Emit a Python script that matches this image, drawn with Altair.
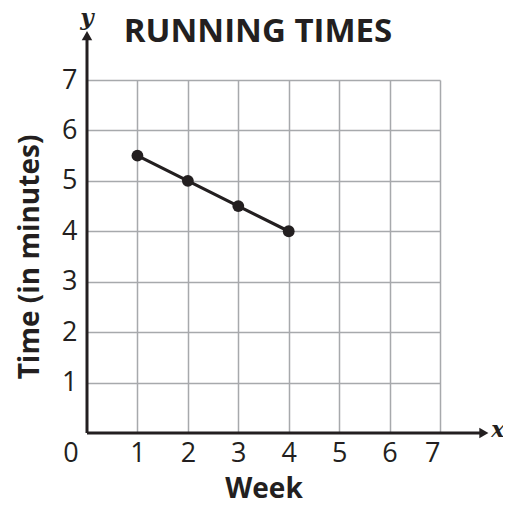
import altair as alt
import pandas as pd

weeks = [1, 2, 3, 4]
times = [5.5, 5.0, 4.5, 4.0]
tick_values = [1, 2, 3, 4, 5, 6, 7]
x_arrow_end = 7.87
y_arrow_end = 7.88
chart_title = "RUNNING TIMES"

INK = "#231f20"
FONT = "Open Sans"

df = pd.DataFrame({"week": weeks, "time": times})

xs = alt.Scale(domain=[0, 7], nice=False)
ys = alt.Scale(domain=[0, 7], nice=False)

base = alt.Chart(df)

grid = base.mark_point(opacity=0).encode(
    x=alt.X("week:Q", scale=xs, title="Week",
            axis=alt.Axis(values=tick_values, grid=True, domain=False, ticks=False,
                          labelFontSize=27, labelFont=FONT, labelColor=INK,
                          labelPadding=7, gridColor="#a7a9ac", gridWidth=1.5,
                          titleFont=FONT, titleFontSize=28, titleFontWeight="bold",
                          titleColor=INK, titlePadding=9)),
    y=alt.Y("time:Q", scale=ys, title="Time (in minutes)",
            axis=alt.Axis(values=tick_values, grid=True, domain=False, ticks=False,
                          labelFontSize=27, labelFont=FONT, labelColor=INK,
                          labelPadding=10, gridColor="#a7a9ac", gridWidth=1.5,
                          titleFont=FONT, titleFontSize=28, titleFontWeight="bold",
                          titleColor=INK, titlePadding=17)),
)

axes_df = pd.DataFrame({
    "x": [0, 0], "y": [0, 0],
    "x2": [x_arrow_end, 0], "y2": [0, y_arrow_end],
})
axis_lines = alt.Chart(axes_df).mark_rule(color=INK, strokeWidth=3, clip=False).encode(
    x=alt.X("x:Q", scale=xs), y=alt.Y("y:Q", scale=ys),
    x2="x2:Q", y2="y2:Q",
)

heads_df = pd.DataFrame({
    "x": [x_arrow_end, 0], "y": [0, y_arrow_end],
    "shape": ["triangle-right", "triangle-up"],
})
heads = alt.Chart(heads_df).mark_point(filled=True, color=INK, opacity=1, size=110, clip=False).encode(
    x=alt.X("x:Q", scale=xs), y=alt.Y("y:Q", scale=ys),
    shape=alt.Shape("shape:N", scale=None, legend=None),
)

letters_df = pd.DataFrame({"x": [x_arrow_end, 0], "y": [0, y_arrow_end], "t": ["x", "y"]})
letter_x = alt.Chart(letters_df.iloc[[0]]).mark_text(
    font="DejaVu Serif", fontStyle="italic", fontWeight="bold", fontSize=22,
    color=INK, dx=14, dy=-3, clip=False,
).encode(x=alt.X("x:Q", scale=xs), y=alt.Y("y:Q", scale=ys), text="t:N")
letter_y = alt.Chart(letters_df.iloc[[1]]).mark_text(
    font="DejaVu Serif", fontStyle="italic", fontWeight="bold", fontSize=23,
    color=INK, dy=-18, clip=False,
).encode(x=alt.X("x:Q", scale=xs), y=alt.Y("y:Q", scale=ys), text="t:N")

zero_df = pd.DataFrame({"x": [0], "y": [0], "t": ["0"]})
zero = alt.Chart(zero_df).mark_text(
    font=FONT, fontSize=27, color=INK, dx=-16, dy=21, clip=False,
).encode(x=alt.X("x:Q", scale=xs), y=alt.Y("y:Q", scale=ys), text="t:N")

title_df = pd.DataFrame({"t": [chart_title]})
title = alt.Chart(title_df).mark_text(
    font=FONT, fontSize=33, fontWeight="bold", color=INK, baseline="alphabetic",
    align="center", clip=False,
).encode(x=alt.value(171), y=alt.value(-38), text="t:N")

line = base.mark_line(color=INK, strokeWidth=3.2).encode(
    x=alt.X("week:Q", scale=xs), y=alt.Y("time:Q", scale=ys))
pts = base.mark_point(filled=True, color=INK, opacity=1, size=140).encode(
    x=alt.X("week:Q", scale=xs), y=alt.Y("time:Q", scale=ys))

chart = alt.layer(grid, axis_lines, heads, letter_x, letter_y, zero, title, line, pts).properties(
    width=353, height=353,
    autosize=alt.AutoSizeParams(type="none"),
    padding={"left": 79, "top": 72, "right": 63, "bottom": 70},
).configure_view(stroke=None)

chart.save("out.html", embed_options={"renderer": "svg", "actions": False})
